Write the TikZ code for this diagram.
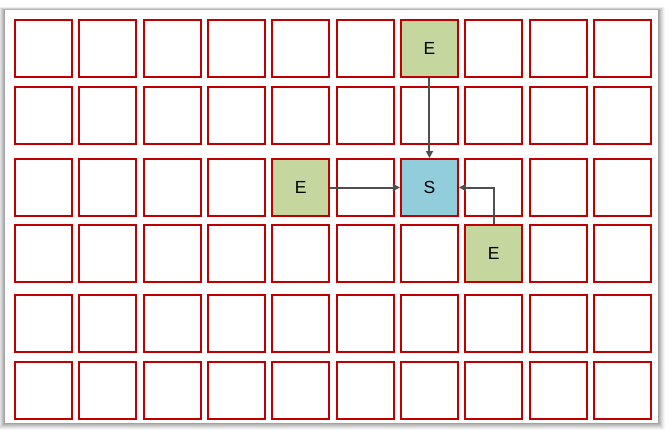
\documentclass[tikz,border=0pt]{standalone}
\usepackage{fontspec}
\setmainfont{Liberation Sans}
\usetikzlibrary{arrows.meta}
\definecolor{cellred}{HTML}{C00000}
\definecolor{egreen}{HTML}{C5D79E}
\definecolor{sblue}{HTML}{92CDDC}
\definecolor{arrowgray}{HTML}{4F4F4F}
\begin{document}
\begin{tikzpicture}[x=1pt,y=-1pt,
  cell/.style={draw=cellred,line width=2pt,minimum width=57pt,minimum height=57pt,inner sep=0pt,font=\fontsize{17.5}{17.5}\selectfont,anchor=north west},
  endcell/.style={cell,fill=egreen},
  startcell/.style={cell,fill=sblue},
  link/.style={draw=arrowgray,line width=2pt,-{Triangle[length=7pt,width=7pt]}}]
\useasboundingbox (0,0) rectangle (670,431);
\fill[white] (0,0) rectangle (670,431);
% shadow
\foreach \k/\o in {7/0.03,6/0.04,5/0.05,4/0.06,3/0.07,2/0.08,1/0.09}{
  \fill[black,opacity=\o] (5-\k,10-\k*0.5) rectangle (658+\k,423+\k);
}
\fill[white] (5,10) rectangle (658,423);
% grid
\foreach \r/\t in {0/18,1/85,2/157,3/223,4/293,5/360}{
  \foreach \c in {0,...,9}{
    \pgfmathsetmacro{\xl}{14+64.33*\c}
    \node[cell] (c\r\c) at (\xl,\t+1) {};
  }
}
\node[endcell] (e1) at (c06.north west) {E};
\node[endcell] (e2) at (c24.north west) {E};
\node[startcell] (s) at (c26.north west) {S};
\node[endcell] (e3) at (c37.north west) {E};
\draw[link] (e1.south) -- (s.north);
\draw[link] (e2.east) -- (s.west);
\draw[link] (e3.north) |- (s.east);
\end{tikzpicture}
\end{document}
